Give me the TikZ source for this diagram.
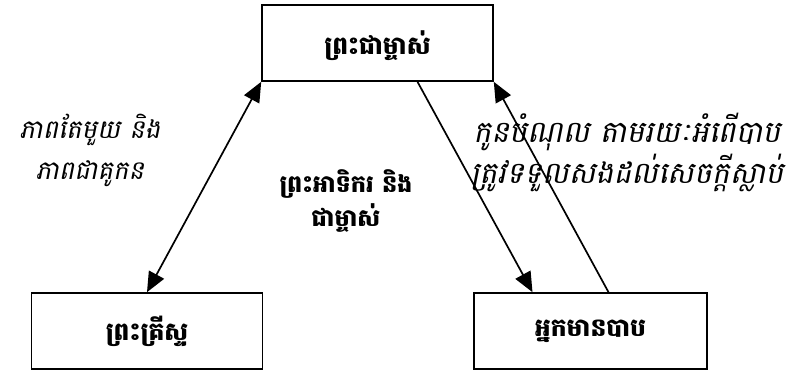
\documentclass[tikz,border=0pt]{standalone}
\usepackage{fontspec}
\newfontfamily\khmer[Script=Khmer]{Battambang}
\newfontfamily\khmerit[Script=Khmer,FakeSlant=0.2]{Battambang}
\usetikzlibrary{arrows.meta}
\usetikzlibrary{positioning}

\tikzset{
	khbox/.style={draw, line width=1.6pt, minimum width=231pt, minimum height=76pt, inner sep=0pt,
		font=\khmer\bfseries\fontsize{25}{28}\selectfont},
	khlabel/.style={align=center, inner sep=0pt, font=\khmerit\fontsize{26}{41}\selectfont},
	khbold/.style={align=center, inner sep=0pt, font=\khmer\bfseries\fontsize{24}{34}\selectfont},
	link/.style={line width=1.7pt},
	tip/.tip={Triangle[length=20pt, width=17pt]}
}

\begin{document}
\begin{tikzpicture}[x=1pt, y=-1pt]
			\useasboundingbox (0,0) rectangle (797,371);
			% boxes
			\node at (377.5, 43) [khbox, text depth=0pt] (god) {ព្រះជាម្ចាស់};
			\node at (147, 331) [khbox] (christ) {ព្រះគ្រីស្ទ};
			\node at (590.5, 331) [khbox, minimum width=233pt] (sinner) {អ្នកមានបាប};
			% labels
			\node at (90, 150) [khlabel] (unity) {ភាពតែមួយ និង\\ភាពជាគូកន};
			\node at (346, 201) [khbold] (creator) {ព្រះអាទិករ និង\\ជាម្ចាស់};
			\node at (627, 152) [khlabel, font=\khmerit\fontsize{30}{41}\selectfont] (debt) {កូនបំណុល តាមរយៈអំពើបាប\\ត្រូវទទួលសងដល់សេចក្ដីស្លាប់};
			% arrows
			\draw [tip-tip, link] (god.south west) -- (christ.north);
			\draw [-tip, link] ([xshift=40pt]god.south) -- ([xshift=-58pt]sinner.north);
			\draw [-tip, link] ([xshift=18pt]sinner.north) -- (god.south east);
		\end{tikzpicture}
\end{document}
